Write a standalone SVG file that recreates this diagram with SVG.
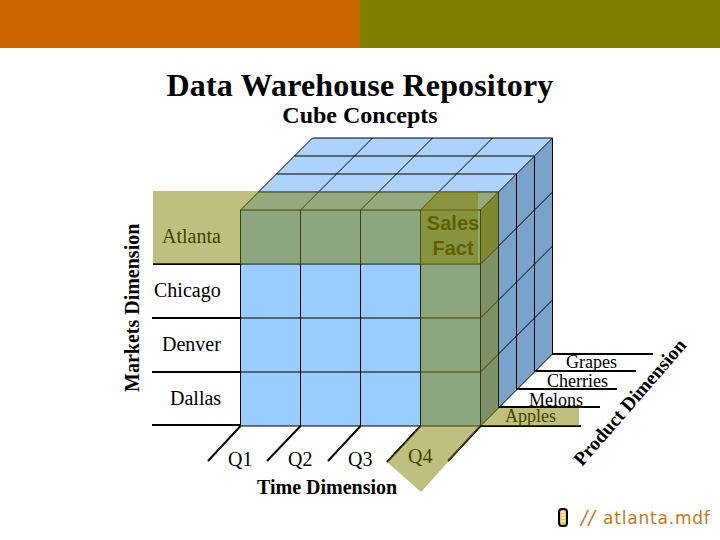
<svg xmlns="http://www.w3.org/2000/svg" width="720" height="540" viewBox="0 0 720 540">
<style>
.t{font-family:"Liberation Serif",serif;fill:#000}
.l{font-size:20px}.s{font-size:18px}.d{font-size:20px;font-weight:bold}
.b{font-weight:bold}
.g{stroke:#000;stroke-width:1;fill:none}
.a{stroke:#000;stroke-width:2;fill:none}
.o{fill:#808000;fill-opacity:.5;stroke:none}
</style>
<rect width="720" height="540" fill="#fff"/>
<rect id="bar-left" x="0" y="0" width="360" height="48" fill="#cc6600"/>
<rect id="bar-right" x="360" y="0" width="360" height="48" fill="#808000"/>
<text class="t b" x="360" y="96" font-size="32" letter-spacing=".16" text-anchor="middle">Data Warehouse Repository</text>
<text class="t b" x="360" y="123" font-size="24" text-anchor="middle">Cube Concepts</text>
<g id="cube">
<polygon points="240.5,210 312.5,138 552.5,138 480.5,210" fill="#abd3fd"/>
<rect x="240.5" y="210" width="240" height="216" fill="#99ccff"/>
<polygon points="480.5,210 552.5,138 552.5,354 480.5,426" fill="#7aa3cc"/>
<path class="g" d="M240.5 210V426M300.5 210V426M360.5 210V426M420.5 210V426M480.5 210V426M240.5 210H480.5M240.5 264H480.5M240.5 318H480.5M240.5 372H480.5M240.5 426H480.5"/>
<path class="g" d="M312.5 138H552.5M294.5 156H534.5M276.5 174H516.5M258.500 192H498.5M240.5 210L312.5 138M300.5 210L372.5 138M360.5 210L432.5 138M420.5 210L492.5 138M480.5 210L552.5 138"/>
<path class="g" d="M498.5 192V408M516.5 174V390M534.5 156V372M552.5 138V354M480.5 264L552.5 192M480.5 318L552.5 246M480.5 372L552.5 300M480.5 426L552.5 354"/>
</g>
<g id="connectors">
<path class="a" d="M153 264H240M152 318H240M152 372H240M152 425H240"/>
<path class="a" d="M240.5 426L208 461M300.5 426L267 461M360.5 426L328 461M420.5 426L387 462M480.5 426L448 461"/>
<path class="a" d="M480 426H581M498 407H600M516 389H617M534 371H636M552 354H653"/>
</g>
<g id="labels">
<text class="t d" transform="translate(139,392) rotate(-90)">Markets Dimension</text>
<text class="t l" x="162" y="243">Atlanta</text>
<text class="t l" x="154" y="297">Chicago</text>
<text class="t l" x="162" y="351">Denver</text>
<text class="t l" x="170" y="405">Dallas</text>
<text class="t l" x="228" y="466">Q1</text>
<text class="t l" x="288" y="466">Q2</text>
<text class="t l" x="348" y="466">Q3</text>
<text class="t l" x="408" y="463">Q4</text>
<text class="t d" x="257" y="494">Time Dimension</text>
<text class="t s" x="566" y="368">Grapes</text>
<text class="t s" x="547" y="387">Cherries</text>
<text class="t s" x="529" y="406">Melons</text>
<text class="t s" x="505" y="422">Apples</text>
<text class="t b" font-size="19.500" transform="translate(582,467) rotate(-49)">Product Dimension</text>
<text x="453" y="230" font-family="Liberation Sans,sans-serif" font-size="20" font-weight="bold" text-anchor="middle">Sales</text>
<text x="453" y="255" font-family="Liberation Sans,sans-serif" font-size="20" font-weight="bold" text-anchor="middle">Fact</text>
</g>
<g id="overlay-row">
<rect class="o" x="153" y="191" width="325" height="73"/>
<polygon class="o" points="480.500,210 498.500,192 498.500,246 480.500,264"/>
</g>
<g id="overlay-column">
<polygon class="o" points="420.500,210 438.500,192 498.500,192 480.500,210"/>
<rect class="o" x="420.500" y="210" width="60" height="216"/>
<polygon class="o" points="480.500,210 498.500,192 498.500,408 480.500,426"/>
<polygon class="o" points="420.500,426 480.500,426 421,492 387,462"/>
</g>
<g id="overlay-product">
<polygon class="o" points="480.500,426 498.500,408 579,408 579,426"/>
</g>
<g id="logo">
<rect x="559" y="509" width="8" height="17" rx="3" fill="#e8c860" stroke="#000" stroke-width="2"/>
<path d="M561 512h4M561 515h4M561 518h4M561 521h4" stroke="#fff" stroke-width="1"/>
<text x="581" y="524" font-family="DejaVu Sans,sans-serif" font-size="17" fill="#c47a20" letter-spacing=".8"><tspan font-size="19" font-style="italic" letter-spacing="1">//</tspan><tspan x="603">atlanta.mdf</tspan></text>
</g>
</svg>
